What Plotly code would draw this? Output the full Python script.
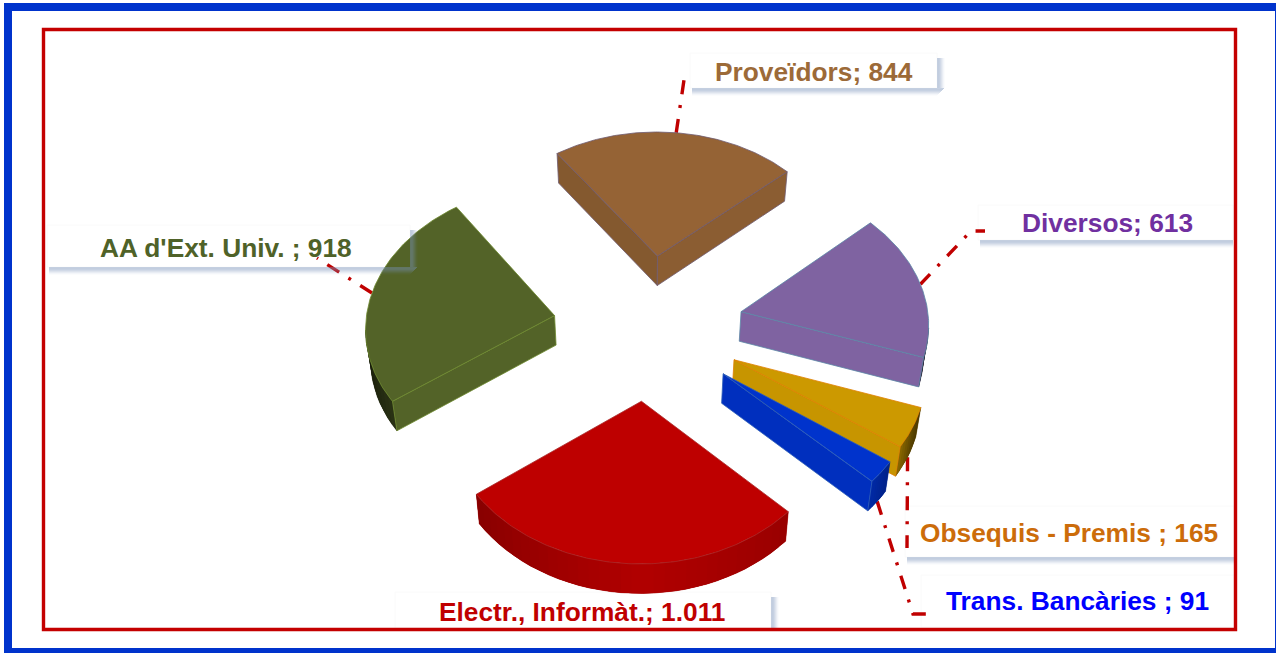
import numpy as np
import plotly.graph_objects as go

# ---- data ----
categories = ["Proveïdors", "Diversos", "Obsequis - Premis ", "Trans. Bancàries ", "Electr., Informàt.", "AA d'Ext. Univ. "]
values = [844, 613, 165, 91, 1011, 918]
value_labels = ["844", "613", "165", "91", "1.011", "918"]

# ---- style ----
W, H = 1276, 653
top_colors = ["#956335", "#7F63A1", "#CC9900", "#0033CC", "#BE0000", "#536328"]
edge_colors = ["#6F5A70", "#5A86A6", "#E08000", "#2F5FB8", "#A82A2A", "#6F8A30"]
wall_colors = [("#84592F", "#8B5D32"), ("#7F63A1", "#7F63A1"), ("#C79500", "#C79500"),
               ("#002FBE", "#002FBE"), ("#AA0000", "#AA0000"), ("#536328", "#536328")]
arc_gain = [1, .9, 1, 1, 1, .72]
text_colors = ["#9C6A38", "#7030A0", "#CC6C0A", "#0000FF", "#C00000", "#4F6228"]
explode_x = [.0448, .4901, .4423, .3827, -.0408, -.5053]
explode_y = [-.5406, -.1302, .2071, .3026, .4862, -.1022]
paint_order = [0, 1, 5, 2, 3, 4]
FIRST_ANGLE = -35.29
# view of the pie plane
CX, CY, SCALE, SQUASH, PERSP, SKEW_P, SKEW_T = 649.38, 330.0, 188.83, .7508, .0669, -.0013, .0251
DEPTH, VANISH_X, VANISH_C = 29.5, 640, .018
# label boxes: x0, y0, x1, y1, shadow right?, shadow bottom?
boxes = [(690, 53, 937, 88, 1, 1), (978, 205, 1233, 240, 0, 1), (905, 506, 1234, 557, 0, 1),
         (921, 575, 1234, 627, 0, 0), (395, 592, 771, 628, 1, 0), (47, 225, 410, 267, 1, 1)]
label_pos = [(814, 72), (1107, 223), (1069, 533), (1077, 601), (582, 612), (226, 248)]
# leader elbows after the slice anchor; anchor depth 0=top rim, 1=bottom rim
leader_rest = [[(684, 80), (693, 80)], [(971, 231), (985, 231)], [(907, 548)],
               [(913, 614), (926, 614)], [], [(317, 258)]]
leader_level = [0, 0, 1, 1, 0, 0]
FONT_SIZE = 26.3


def hex2rgb(c):
    return np.array([int(c[i:i + 2], 16) for i in (1, 3, 5)], float)


def shade(c, f):
    r = np.clip(hex2rgb(c) * f, 0, 255).round().astype(int)
    return f"rgb({r[0]},{r[1]},{r[2]})"


def project(ang, r, i):
    X = r * np.sin(ang) + explode_x[i]
    Y = -r * np.cos(ang) + explode_y[i]
    w = 1 - PERSP * Y - SKEW_P * X
    return CX + SCALE * X / w, CY + (SCALE * SQUASH * Y + SKEW_T * X) / w


def drop(p):
    return p[0] + VANISH_C * (VANISH_X - p[0]), p[1] + DEPTH


def arc_factor(deg):
    return np.interp(deg % 360, [100, 108, 116, 124, 133, 180, 233, 250, 270],
                     [.35, .35, .45, .65, .8, .93, .72, .5, .3])


fig = go.Figure()


def poly(pts, fill, line=None, lw=.8):
    xs = [p[0] for p in pts] + [pts[0][0]]
    ys = [p[1] for p in pts] + [pts[0][1]]
    fig.add_trace(go.Scatter(x=xs, y=ys, mode="lines", fill="toself", fillcolor=fill,
                             line=dict(color=line or fill, width=lw), hoverinfo="skip", showlegend=False))


vals = np.array(values, float)
sweep = vals / vals.sum() * 2 * np.pi
starts = np.radians(FIRST_ANGLE) + np.concatenate([[0], np.cumsum(sweep)[:-1]])
mids = starts + sweep / 2

# leaders sit behind the slices
for i, rest in enumerate(leader_rest):
    if not rest:
        continue
    p = project(mids[i], 1, i)
    if leader_level[i]:
        p = drop(p)
    pts = [p] + rest
    fig.add_trace(go.Scatter(x=[q[0] for q in pts], y=[q[1] for q in pts], mode="lines",
                             line=dict(color="#C00000", width=3.4, dash="14px,11px,3px,11px"),
                             hoverinfo="skip", showlegend=False))

for i in paint_order:
    n = max(8, int(np.degrees(sweep[i]) / 3))
    angs = np.linspace(starts[i], starts[i] + sweep[i], n + 1)
    fine = np.linspace(starts[i], starts[i] + sweep[i], 4 * n + 1)
    apex = project(0, 0, i)
    rim = [project(a, 1, i) for a in angs]
    fine_rim = [project(a, 1, i) for a in fine]
    # outer wall: one silhouette, then overlapping shaded bands without outlines
    vis = [j for j in range(n) if rim[j + 1][0] < rim[j][0]]
    if vis:
        j0, j1 = vis[0], vis[-1] + 1
        chain = rim[j0:j1 + 1]
        fs = [arc_factor(np.degrees((angs[j] + angs[j + 1]) / 2)) * arc_gain[i] for j in vis]
        poly(chain + [drop(p) for p in chain[::-1]], shade(top_colors[i], float(np.mean(fs))), None, .5)
        for j, f in zip(vis, fs):
            k = min(j + 2, j1)
            seg = rim[j:k + 1]
            poly(seg + [drop(p) for p in seg[::-1]], shade(top_colors[i], f), None, 0)
    # straight walls
    if rim[0][0] < apex[0]:
        poly([apex, rim[0], drop(rim[0]), drop(apex)], wall_colors[i][0], edge_colors[i])
    if apex[0] < rim[-1][0]:
        poly([rim[-1], apex, drop(apex), drop(rim[-1])], wall_colors[i][1], edge_colors[i])
    # top
    poly([apex] + fine_rim, top_colors[i], edge_colors[i])

shapes = []
SH = "120,145,185"
alphas = [.42, .45, .42, .34, .25, .16, .08, .03]
for x0, y0, x1, y1, sr, sb in boxes:
    shapes.append(dict(type="rect", xref="x", yref="y", x0=x0, y0=y0, x1=x1, y1=y1, layer="below",
                       fillcolor="#FFFFFF", line=dict(color="#FAFAFA", width=1)))
    for j, al in enumerate(alphas):
        if sb:
            shapes.append(dict(type="rect", xref="x", yref="y", x0=x0 + 2, x1=x1 + (7 - j if sr else 0),
                               y0=y1 + j, y1=y1 + j + 1, layer="above",
                               fillcolor=f"rgba({SH},{al})", line=dict(width=0)))
        if sr:
            shapes.append(dict(type="rect", xref="x", yref="y", y0=y0 + 5, y1=y1, x0=x1 + j, x1=x1 + j + 1,
                               layer="above", fillcolor=f"rgba({SH},{al})", line=dict(width=0)))
# frames
shapes.append(dict(type="rect", xref="x", yref="y", x0=43.5, y0=29.5, x1=1235.5, y1=629.5, layer="above",
                   fillcolor="rgba(0,0,0,0)", line=dict(color="#C40000", width=3.4)))
shapes.append(dict(type="rect", xref="x", yref="y", x0=8, y0=7, x1=1279, y1=652, layer="above",
                   fillcolor="rgba(0,0,0,0)", line=dict(color="#0033CC", width=8)))

annotations = [dict(x=px, y=py, xref="x", yref="y", showarrow=False, xanchor="center", yanchor="middle",
                    text=f"{c}; {v}", font=dict(family="Liberation Sans, Arial", size=FONT_SIZE, color=tc, weight="bold"))
               for c, v, tc, (px, py) in zip(categories, value_labels, text_colors, label_pos)]

fig.update_layout(width=W, height=H, margin=dict(l=0, r=0, t=0, b=0), paper_bgcolor="white", plot_bgcolor="white",
                  xaxis=dict(range=[0, W], visible=False, domain=[0, 1], fixedrange=True),
                  yaxis=dict(range=[H, 0], visible=False, domain=[0, 1], fixedrange=True),
                  shapes=shapes, annotations=annotations, showlegend=False)
fig.write_html("out.html", config=dict(displayModeBar=False),
               post_script="document.body.style.margin='0';document.documentElement.style.overflow='hidden';")
